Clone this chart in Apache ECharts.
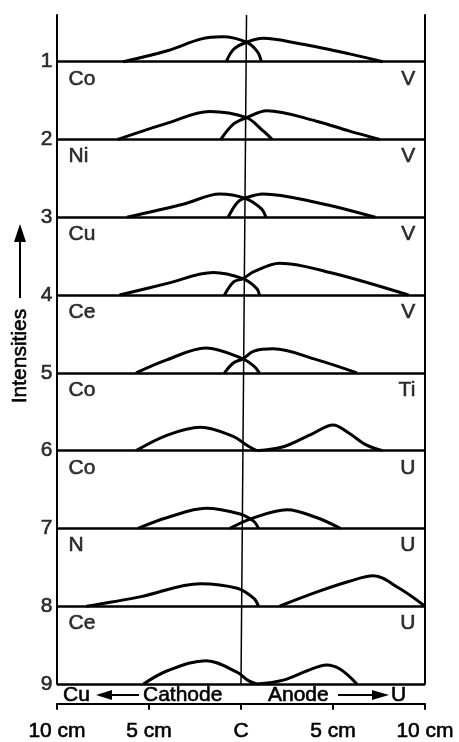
<!DOCTYPE html>
<html>
<head>
<meta charset="utf-8">
<style>
  html, body { margin: 0; padding: 0; background: #fff; }
  #chart { width: 459px; height: 742px; }
</style>
<script src="https://cdn.jsdelivr.net/npm/echarts/dist/echarts.min.js"></script>
</head>
<body>
<div id="chart"></div>
<script>
// 行号和两端元素
var rowNums = ['1', '2', '3', '4', '5', '6', '7', '8', '9'];
var leftNames = ['Co', 'Ni', 'Cu', 'Ce', 'Co', 'Co', 'N', 'Ce'];
var rightNames = ['V', 'V', 'V', 'V', 'Ti', 'U', 'U', 'U'];
var tickLabels = ['10 cm', '5 cm', 'C', '5 cm', '10 cm'];

// 阴极侧曲线 [cm, 强度]
var cathodeCurves = [
  [[-6.4, 0], [-4.0, 1.4], [-2.2, 2.9], [-1.0, 3.2], [0.3, 2.5], [0.9, 1.25], [1.1, 0]],
  [[-6.7, 0], [-4.0, 2.1], [-1.7, 3.6], [0.3, 2.8], [1.2, 1.1], [1.7, 0]],
  [[-6.2, 0], [-3.1, 1.7], [-1.15, 3.0], [0.2, 2.45], [1.1, 1.1], [1.35, 0]],
  [[-6.6, 0], [-4.0, 1.5], [-1.5, 2.9], [0.1, 2.1], [0.85, 0.86], [1.0, 0]],
  [[-5.7, 0], [-4.0, 1.7], [-1.9, 3.2], [0.1, 1.8], [0.7, 0.86], [1.0, 0]],
  [[-5.7, 0], [-4.0, 2.0], [-2.2, 3.0], [-0.4, 1.8], [0.3, 0.73], [0.85, 0]],
  [[-5.6, 0], [-4.0, 1.4], [-1.9, 2.6], [-0.05, 1.85], [0.7, 0.9], [0.95, 0]],
  [[-8.4, 0], [-5.5, 1.2], [-2.2, 2.9], [-0.2, 2.3], [0.7, 1.0], [0.95, 0]],
  [[-5.3, 0], [-4.0, 1.7], [-1.9, 3.0], [-0.2, 1.5], [0.4, 0.43], [0.85, 0]]
];
// 阳极侧曲线
var anodeCurves = [
  [[-0.8, 0], [-0.4, 1.6], [0.3, 2.5], [1.2, 3.0], [3.2, 2.3], [5.9, 1.0], [7.7, 0]],
  [[-1.1, 0], [-0.4, 2.0], [0.3, 2.8], [1.4, 3.7], [4.1, 2.35], [5.9, 1.07], [7.55, 0]],
  [[-0.7, 0], [-0.2, 1.9], [0.2, 2.45], [1.2, 3.0], [4.1, 1.9], [7.3, 0]],
  [[-0.9, 0], [-0.4, 1.7], [0.1, 2.1], [0.7, 3.0], [2.1, 4.1], [5.0, 2.8], [9.1, 0]],
  [[-0.9, 0], [-0.4, 1.3], [0.1, 1.8], [0.7, 2.8], [1.75, 3.1], [4.1, 1.7], [6.3, 0]],
  [[0.85, 0], [2.3, 0.5], [3.9, 2.2], [5.0, 3.3], [5.9, 2.2], [6.8, 0.73], [7.7, 0]],
  [[-0.6, 0], [0.5, 1.2], [2.5, 2.4], [4.1, 1.4], [5.4, 0]],
  [[2.1, 0], [4.1, 1.8], [5.9, 3.2], [7.2, 3.9], [8.6, 2.3], [10, 0]],
  [[0.85, 0], [2.3, 0.5], [3.6, 1.7], [4.65, 2.45], [5.4, 1.9], [6.3, 0]]
];

var ROW_GAP = 10;
var FONT = '"Liberation Sans", Arial, sans-serif';
function base(i) { return (rowNums.length - 1 - i) * ROW_GAP; }

var series = [];
function curve(pts, i) {
  return {
    type: 'line', xAxisIndex: 0, yAxisIndex: 0,
    data: pts.map(function (p) { return [p[0], p[1] + base(i)]; }),
    smooth: 0.35, showSymbol: false, z: 5,
    lineStyle: { color: '#000', width: 3 }, silent: true
  };
}
cathodeCurves.forEach(function (c, i) { series.push(curve(c, i)); });
anodeCurves.forEach(function (c, i) { series.push(curve(c, i)); });

// 基线
series.push({
  type: 'line', data: [], xAxisIndex: 0, yAxisIndex: 0,
  markLine: {
    silent: true, symbol: 'none', label: { show: false },
    lineStyle: { color: '#000', width: 2.5, type: 'solid' },
    data: rowNums.map(function (n, i) { return { yAxis: base(i) }; })
  }
});

// 中心线 C
series.push({
  type: 'line', xAxisIndex: 0, yAxisIndex: 0, showSymbol: false, silent: true,
  data: [[0.3, 86], [0, 0]], lineStyle: { color: '#000', width: 1.5 }, z: 3
});

// 文字标签
var labelData = [];
rowNums.forEach(function (n, i) {
  labelData.push({ value: [-10, base(i)], label: { formatter: n, position: 'left', distance: 4 } });
});
leftNames.forEach(function (n, i) {
  labelData.push({ value: [-9.4, base(i) - 2.2], label: { formatter: n, position: 'right', distance: 0 } });
});
rightNames.forEach(function (n, i) {
  labelData.push({ value: [9.5, base(i) - 2.2], label: { formatter: n, position: 'left', distance: 0 } });
});
var thick = { textBorderColor: '#000', textBorderWidth: 0.6 };
series.push({
  type: 'scatter', xAxisIndex: 0, yAxisIndex: 0, symbolSize: 1, silent: true,
  itemStyle: { color: 'rgba(0,0,0,0)' },
  label: Object.assign({ show: true, color: '#000', fontSize: 21, fontFamily: FONT }, thick),
  data: labelData
});

function txt(s, x, y, extra) {
  return {
    type: 'text', x: x, y: y,
    style: Object.assign({ text: s, font: '21px ' + FONT, fill: '#000', stroke: '#000', lineWidth: 0.6, verticalAlign: 'middle' }, extra || {})
  };
}

var chart = echarts.init(document.getElementById('chart'), null, { renderer: 'canvas' });
chart.setOption({
  animation: false,
  backgroundColor: '#fff',
  grid: [
    { left: 57, right: 34, top: 15, bottom: 58 },
    { left: 57, right: 34, top: 700, height: 8 }
  ],
  xAxis: [
    { gridIndex: 0, type: 'value', min: -10, max: 10, show: false },
    {
      gridIndex: 1, type: 'value', min: -10, max: 10, interval: 5, position: 'bottom',
      axisLine: { lineStyle: { color: '#000', width: 2 } },
      axisTick: { length: 6, lineStyle: { color: '#000', width: 2 } },
      splitLine: { show: false },
      axisLabel: Object.assign({
        margin: 17, color: '#000', fontSize: 21, fontFamily: FONT,
        formatter: function (v) { return tickLabels[Math.round((v + 10) / 5)]; }
      }, thick)
    }
  ],
  yAxis: [
    {
      gridIndex: 0, type: 'value', min: 0, max: 86, position: 'left',
      axisLine: { show: true, onZero: false, lineStyle: { color: '#000', width: 2 } },
      axisTick: { show: false }, axisLabel: { show: false }, splitLine: { show: false }
    },
    {
      gridIndex: 0, type: 'value', min: 0, max: 86, position: 'right',
      axisLine: { show: true, onZero: false, lineStyle: { color: '#000', width: 2 } },
      axisTick: { show: false }, axisLabel: { show: false }, splitLine: { show: false }
    },
    { gridIndex: 1, type: 'value', show: false }
  ],
  series: series,
  graphic: [
    // Intensities 箭头
    { type: 'line', shape: { x1: 20, y1: 298, x2: 20, y2: 240 }, style: { stroke: '#000', lineWidth: 2 } },
    { type: 'polygon', shape: { points: [[20, 224], [14, 242], [26, 242]] }, style: { fill: '#000' } },
    Object.assign(txt('Intensities', 20, 356, { align: 'center' }), { rotation: Math.PI / 2 }),
    // Cu ← Cathode   Anode → U
    txt('Cu', 63, 695),
    { type: 'line', shape: { x1: 108, y1: 695, x2: 139, y2: 695 }, style: { stroke: '#000', lineWidth: 2 } },
    { type: 'polygon', shape: { points: [[96, 695], [112, 690], [112, 700]] }, style: { fill: '#000' } },
    txt('Cathode', 143, 695),
    txt('Anode', 268, 695),
    { type: 'line', shape: { x1: 338, y1: 695, x2: 376, y2: 695 }, style: { stroke: '#000', lineWidth: 2 } },
    { type: 'polygon', shape: { points: [[389, 695], [372, 690], [372, 700]] }, style: { fill: '#000' } },
    txt('U', 391, 695)
  ]
});
</script>
</body>
</html>
